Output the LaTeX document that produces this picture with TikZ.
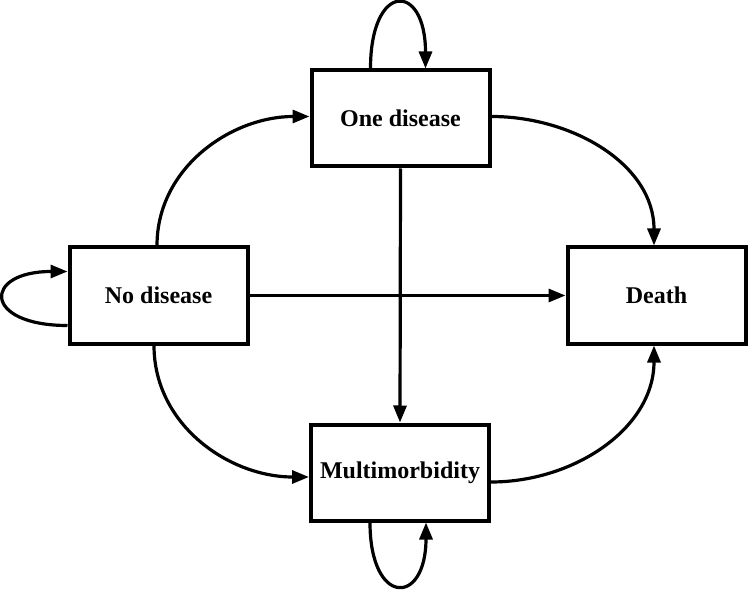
\documentclass[tikz,border=0pt]{standalone}
\usepackage{fontspec}
\setmainfont{Liberation Serif}
\usetikzlibrary{arrows.meta}
\begin{document}
\begin{tikzpicture}[x=1pt,y=1pt,
  state/.style={draw=black,line width=4pt,rectangle,minimum width=178pt,minimum height=96pt,
    inner sep=0pt,font=\fontsize{24}{28}\selectfont\bfseries},
  trans/.style={line width=3.2pt,-{Triangle[length=17pt,width=13pt]}}]
\useasboundingbox (0,0) rectangle (750,590);
\node[state] (one) at (400.5,471.5) {One disease};
\node[state] (no) at (158.5,294.5) {No disease};
\node[state] (death) at (656.5,294.5) {Death};
\node[state] (multi) at (400,117.5) {Multimorbidity};
% self loops
\draw[trans] ([xshift=-30pt]one.north) .. controls +(0,87) and +(0,87) .. ([xshift=25pt]one.north);
\draw[trans] ([xshift=-30pt]multi.south) .. controls +(0,-84) and +(0,-84) .. ([xshift=26pt]multi.south);
\draw[trans] ([yshift=-30pt]no.west) .. controls +(-85,0) and +(-85,0) .. ([yshift=24pt]no.west);
% curved transitions
\draw[trans] ([xshift=-1.5pt]no.north) to[out=90,in=180] ([yshift=2pt]one.west);
\draw[trans] ([yshift=2pt]one.east) to[out=0,in=90] ([xshift=-2.5pt]death.north);
\draw[trans] ([xshift=-4.5pt]no.south) to[out=-90,in=180] ([yshift=-4.5pt]multi.west);
\draw[trans] ([yshift=-9.5pt]multi.east) to[out=0,in=-90] ([xshift=-2.5pt]death.south);
% straight transitions
\draw[trans] (no.east) -- (death.west);
\draw[trans] (one.south) -- (multi.north);
\end{tikzpicture}
\end{document}
